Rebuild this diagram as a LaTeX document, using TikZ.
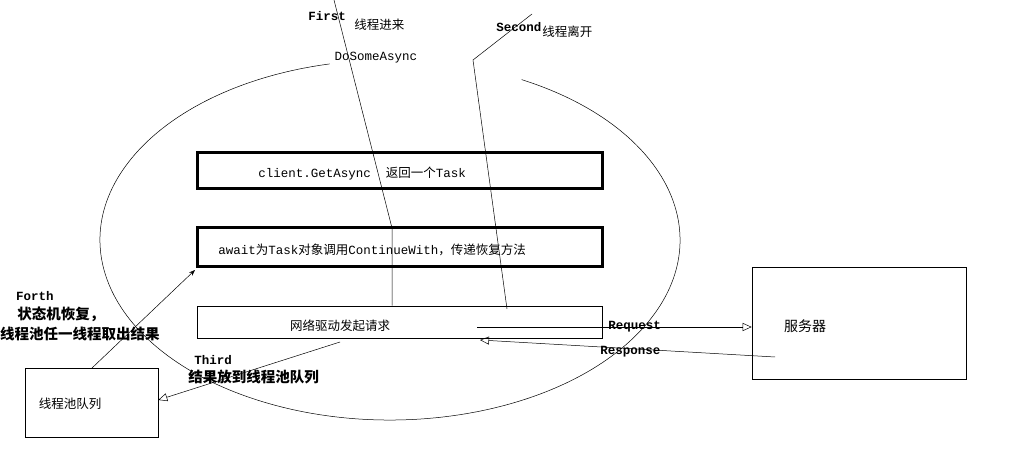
\documentclass[tikz,border=0pt]{standalone}
\usepackage{fontspec}
\setmonofont{Liberation Mono}
\newfontfamily\cjk{Noto Sans CJK SC}
\usetikzlibrary{arrows.meta}
\tikzset{
  thinbox/.style={draw, line width=0.6pt},
  thickbox/.style={draw, line width=3pt},
  tag/.style={font=\ttfamily\bfseries\fontsize{12.5}{13}\selectfont, inner sep=0pt},
  txt/.style={font=\cjk\fontsize{12.5}{13}\selectfont, inner sep=0pt},
  bigtxt/.style={font=\cjk\bfseries\fontsize{14.5}{15}\selectfont, inner sep=0pt},
  hollow/.style={-{Triangle[open, length=9pt, width=8pt]}, line width=0.5pt}
}
\begin{document}
\begin{tikzpicture}[x=1pt, y=-1pt, line width=0.5pt]
    \useasboundingbox (0,0) rectangle (1015,462);

    % Outer ellipse (open at the top)
    \draw (390,240) ++(-63:290 and 180) arc[start angle=-63, end angle=258, x radius=290, y radius=180];

    % Boxes
    \node[thickbox, minimum width=405pt, minimum height=36pt] (client) at (399.5,171) {};
    \node[txt, anchor=west] at (258,174) {\ttfamily client.GetAsync\hspace{1.2em}\cjk 返回一个\ttfamily Task};
    \node[thickbox, minimum width=405pt, minimum height=39pt] (await) at (399.5,247.5) {};
    \node[txt, anchor=west] at (218,250) {\ttfamily await\cjk 为\ttfamily Task\cjk 对象调用\ttfamily ContinueWith\cjk ，传递恢复方法};
    \node[thinbox, minimum width=405pt, minimum height=32pt] (net) at (399.5,322) {};
    \node[txt] at (340,326) {网络驱动发起请求};
    \node[thinbox, minimum width=214pt, minimum height=112pt] (server) at (859,323) {};
    \node[txt, font=\cjk\fontsize{14}{15}\selectfont] at (805,326) {服务器};
    \node[thinbox, minimum width=133pt, minimum height=69pt] (pool) at (91.5,402.5) {};
    \node[txt] at (70,404) {线程池队列};

    % Thread in / out
    \coordinate (firstTop) at (334,0);
    \coordinate (firstBend) at (392,228);
    \draw (firstTop) -- (firstBend) -- (firstBend |- net.north);
    \coordinate (secondTop) at (532,14);
    \coordinate (secondBend) at (473,60);
    \coordinate (secondEnd) at (507,309);
    \draw (secondTop) -- (secondBend) -- (secondEnd);

    % Request / response
    \coordinate (reqStart) at (477,327);
    \coordinate (respStart) at (775,357);
    \draw[hollow] (reqStart) -- (server.west |- reqStart);
    \draw[hollow] (respStart) -- (480,340);

    % Third / Forth
    \coordinate (thirdStart) at (340,342);
    \draw[hollow] (thirdStart) -- (pool.east |- 0,400);
    \draw[-{Stealth[length=6pt]}] (92,368) -- (195,270);

    % Labels
    \node[tag, anchor=west] at (308,16) {First};
    \node[txt, anchor=west] at (354,25) {线程进来};
    \node[txt, font=\ttfamily\fontsize{12.5}{13}\selectfont] at (376,58) {DoSomeAsync};
    \node[tag, anchor=west] at (496,27) {Second};
    \node[txt, anchor=west] at (542,32) {线程离开};
    \node[tag, anchor=west] at (608,327) {Request};
    \node[tag, anchor=west] at (600,352) {Response};
    \node[tag, anchor=west] at (16,296) {Forth};
    \node[bigtxt, anchor=west] at (17,314) {状态机恢复，};
    \node[bigtxt, anchor=west] at (0,334) {线程池任一线程取出结果};
    \node[tag, anchor=west] at (194,360) {Third};
    \node[bigtxt, anchor=west] at (188,377) {结果放到线程池队列};
  \end{tikzpicture}
\end{document}
